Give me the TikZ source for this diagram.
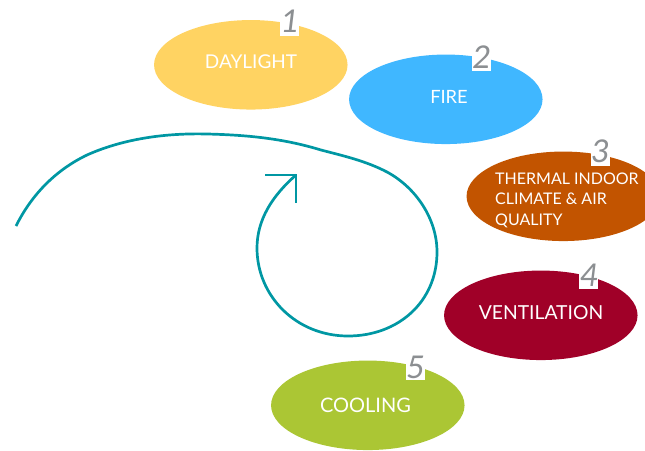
\documentclass[tikz,border=0pt]{standalone}
\usepackage{fontspec}
\setmainfont{Lato}
\newfontfamily\numfont{Carlito}
\definecolor{cDay}{HTML}{FFD362}
\definecolor{cFire}{HTML}{40B7FF}
\definecolor{cTherm}{HTML}{C25400}
\definecolor{cVent}{HTML}{A00028}
\definecolor{cCool}{HTML}{ABC634}
\definecolor{cLine}{HTML}{0097A3}
\definecolor{cNum}{HTML}{8C8F92}
\usetikzlibrary{shapes.geometric}
\tikzset{
  blob/.style={ellipse,minimum width=193.5pt,minimum height=89.5pt,inner sep=0pt},
  lab/.style={text=white,inner sep=0pt},
  numbox/.style={fill=white,minimum width=19pt,minimum height=32pt,inner sep=0pt},
  numtxt/.style={text=cNum,font=\fontsize{35}{38}\selectfont\numfont\itshape,inner sep=0pt},
  teal/.style={draw=cLine,line width=2.7pt}
}
\begin{document}
\begin{tikzpicture}[x=1pt,y=-1pt]
\useasboundingbox (0,0) rectangle (645,450);
\clip (0,0) rectangle (645,450);
\node[blob,fill=cDay] (day) at (250.8,64.8) {};
\node[blob,fill=cFire] (fire) at (445.8,99.3) {};
\node[blob,fill=cTherm] (therm) at (563.3,196.3) {};
\node[blob,fill=cVent] (vent) at (540.8,315.3) {};
\node[blob,fill=cCool] (cool) at (367.8,405.3) {};
\node[lab,font=\fontsize{19}{22}\selectfont] (tday) at (251,62) {DAYLIGHT};
\node[lab,font=\fontsize{18.3}{22}\selectfont] (tfire) at (449,97) {FIRE};
\node[lab,font=\fontsize{16}{20.5}\selectfont,anchor=west,align=left] (ttherm) at (495,200) {THERMAL INDOOR\\CLIMATE \& AIR\\QUALITY};
\node[lab,font=\fontsize{19.3}{22}\selectfont] (tvent) at (541,313) {VENTILATION};
\node[lab,font=\fontsize{20}{22}\selectfont] (tcool) at (365.5,405) {COOLING};
\node[numbox] (b1) at (289.5,20) {};
\node[numbox] (b2) at (481.5,55) {};
\node[numbox] (b3) at (600.5,150) {};
\node[numbox] (b4) at (588.5,273) {};
\node[numbox] (b5) at (415.5,364) {};
\node[numtxt] (n1) at (289,21) {1};
\node[numtxt] (n2) at (481,57) {2};
\node[numtxt] (n3) at (599.5,151) {3};
\node[numtxt] (n4) at (588.5,275) {4};
\node[numtxt] (n5) at (415,367) {5};
\coordinate (c0) at (16,226);
\coordinate (c1) at (87,155);
\coordinate (c2) at (207,134);
\coordinate (c3) at (321,150);
\coordinate (c4) at (387,172);
\coordinate (c5) at (437,252);
\coordinate (c6) at (348,336);
\coordinate (c7) at (257,248);
\coordinate (tip) at (296,175);
\coordinate (ah1) at (265,175);
\coordinate (ah2) at (296,203);
\draw[teal] (c0) .. controls (33,192) and (58,169) .. (c1)
  .. controls (125,138) and (168,133) .. (c2)
  .. controls (250,135) and (285,139) .. (c3)
  .. controls (344,156) and (366,161) .. (c4)
  .. controls (415,187) and (437,218) .. (c5)
  .. controls (437,302) and (398,336) .. (c6)
  .. controls (296,336) and (257,296) .. (c7)
  .. controls (257,220) and (272,196) .. (tip);
\draw[teal] (ah1) -- (tip) -- (ah2);
\end{tikzpicture}
\end{document}
